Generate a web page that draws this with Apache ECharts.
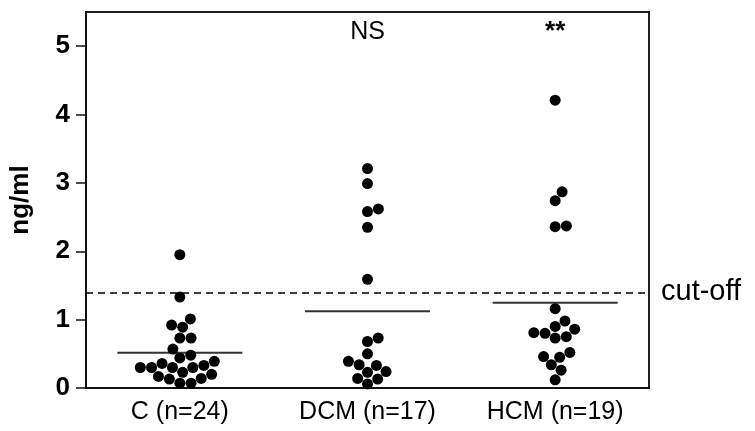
<!DOCTYPE html>
<html>
<head>
<meta charset="utf-8">
<script src="https://cdn.jsdelivr.net/npm/echarts@6/dist/echarts.min.js"></script>
<style>html,body{margin:0;padding:0;background:#fff}#c{width:755px;height:431px}</style>
</head>
<body>
<div id="c"></div>
<script>
// ---- data ----
const categories = ['C (n=24)', 'DCM (n=17)', 'HCM (n=19)'];
const valuesC = [1.95, 1.33, 1.01, 0.89, 0.92, 0.73, 0.73, 0.57, 0.48, 0.44, 0.36, 0.39,
                 0.30, 0.30, 0.30, 0.30, 0.33, 0.23, 0.20, 0.17, 0.13, 0.14, 0.07, 0.07];
const valuesDCM = [3.21, 2.99, 2.58, 2.62, 2.35, 1.59, 0.73, 0.68, 0.50, 0.39, 0.33, 0.34,
                   0.24, 0.23, 0.14, 0.13, 0.06];
const valuesHCM = [4.21, 2.87, 2.74, 2.36, 2.37, 1.16, 0.98, 0.90, 0.81, 0.86, 0.80, 0.75,
                   0.73, 0.52, 0.45, 0.46, 0.34, 0.26, 0.12];
const cutOff = 1.4;
const significance = ['', 'NS', '**'];
const yTicks = [0, 1, 2, 3, 4, 5];

const groups = [valuesC, valuesDCM, valuesHCM];
const FONT = '"Liberation Sans", Arial, Helvetica, sans-serif';

// layout constants
const gridLeft = 82, gridRight = 106, gridTop = 12, gridBottom = 43;
const W = 755, H = 431;
const yMax = 5.5;
const pxPerY = (H - gridTop - gridBottom) / yMax;
const pxPerX = (W - gridLeft - gridRight) / 3;
const dotSize = 11;
const dotSpacing = 11.3;

// beeswarm layout (offsets computed from values, in pixels, converted to axis units)
function swarm(vals, idx) {
  const pts = vals.map(v => ({ v, y: v * pxPerY })).sort((a, b) => a.y - b.y);
  const placed = [];
  const d = dotSpacing;
  for (const p of pts) {
    const cands = [0];
    for (const q of placed) {
      const dy = Math.abs(q.y - p.y);
      if (dy < d) {
        const dx = Math.sqrt(d * d - dy * dy);
        cands.push(q.x + dx, q.x - dx);
      }
    }
    cands.sort((a, b) => Math.abs(a) - Math.abs(b) || b - a);
    for (const c of cands) {
      if (placed.every(q => Math.hypot(q.x - c, q.y - p.y) >= d - 1e-6)) { p.x = c; break; }
    }
    placed.push(p);
  }
  return placed.map(p => [idx + p.x / pxPerX, p.v]);
}

const mean = a => a.reduce((s, v) => s + v, 0) / a.length;
const halfLen = 0.333;

const series = [];
groups.forEach((g, i) => {
  series.push({
    type: 'scatter', xAxisIndex: 1, yAxisIndex: 0,
    data: swarm(g, i), symbol: 'circle', symbolSize: dotSize,
    itemStyle: { color: '#000', opacity: 1 }, silent: true, z: 5
  });
  const m = mean(g);
  series.push({
    type: 'line', xAxisIndex: 1, yAxisIndex: 0,
    data: [[i - halfLen, m], [i + halfLen, m]],
    symbol: 'none', lineStyle: { color: '#333', width: 2 }, silent: true, z: 4
  });
});

// annotations + cut-off line
series.push({
  type: 'scatter', xAxisIndex: 1, yAxisIndex: 0,
  data: significance.map((s, i) => [i, 5.21, s]).filter(d => d[2]).map(d => ({
    value: d,
    label: d[2] === '**'
      ? { fontSize: 26, fontWeight: 'bold', color: '#000' }
      : { fontSize: 25, fontWeight: 'normal', color: '#000' }
  })),
  symbolSize: 1, itemStyle: { color: 'rgba(255,255,255,0)', opacity: 1 }, silent: true,
  label: {
    show: true, position: 'inside', color: '#000', fontFamily: FONT,
    formatter: p => p.value[2]
  },
  markLine: {
    silent: true, symbol: 'none',
    lineStyle: { color: '#000', width: 1.5, type: [7, 5], opacity: 1 },
    label: { show: true, position: 'end', formatter: 'cut-off', color: '#000', fontSize: 29, fontFamily: FONT, distance: 12 },
    data: [{ yAxis: cutOff }]
  }
});

const chart = echarts.init(document.getElementById('c'), null, { renderer: 'canvas' });
chart.setOption({
  animation: false,
  backgroundColor: '#fff',
  grid: {
    left: gridLeft, right: gridRight, top: gridTop, bottom: gridBottom,
    show: true, borderColor: '#222', borderWidth: 2, backgroundColor: 'transparent'
  },
  xAxis: [
    {
      type: 'category', data: categories, position: 'bottom',
      axisLine: { show: true, onZero: false, lineStyle: { color: '#111', width: 2 } },
      axisTick: { show: false },
      axisLabel: { color: '#000', fontSize: 25, fontFamily: FONT, margin: 12 },
      splitLine: { show: false }
    },
    { type: 'value', min: -0.5, max: 2.5, show: false }
  ],
  yAxis: [{
    type: 'value', min: 0, max: yMax, position: 'left',
    name: 'ng/ml', nameLocation: 'middle', nameGap: 52,
    nameTextStyle: { color: '#000', fontSize: 26, fontWeight: 'bold', fontFamily: FONT },
    axisLine: { show: true, onZero: false, lineStyle: { color: '#111', width: 2 } },
    axisTick: { show: true, length: 10, lineStyle: { color: '#111', width: 1.5 }, customValues: yTicks },
    axisLabel: { color: '#000', fontSize: 26, fontWeight: 'bold', fontFamily: FONT, margin: 16, customValues: yTicks },
    splitLine: { show: false }
  }],
  series
});
</script>
</body>
</html>
